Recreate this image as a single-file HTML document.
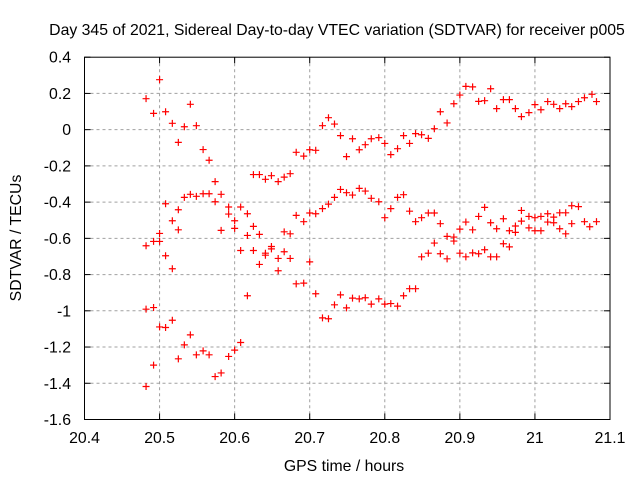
<!DOCTYPE html>
<html><head><meta charset="utf-8"><style>
html,body{margin:0;padding:0;background:#fff}
svg{display:block}
text{font-family:"Liberation Sans",sans-serif;font-size:15.8px;fill:#000}
</style></head><body>
<svg id="chart" width="640" height="480"></svg>
<script>
const xTicks=[20.4,20.5,20.6,20.7,20.8,20.9,21,21.1];
const xTickLabels=["20.4","20.5","20.6","20.7","20.8","20.9","21","21.1"];
const yTicks=[0.4,0.2,0,-0.2,-0.4,-0.6,-0.8,-1,-1.2,-1.4,-1.6];
const yTickLabels=["0.4","0.2","0","-0.2","-0.4","-0.6","-0.8","-1","-1.2","-1.4","-1.6"];
const xs=[20.500,20.482,20.541,20.492,20.508,20.517,20.533,20.549,20.525,20.558,20.566,20.682,20.625,20.633,20.641,20.649,20.658,20.666,20.674,20.574,
20.508,20.533,20.541,20.549,20.558,20.566,20.582,20.574,20.525,20.592,20.608,20.592,20.617,20.682,20.517,20.600,20.525,20.582,20.600,20.625,20.617,20.633,20.666,20.674,
20.500,20.482,20.492,20.500,20.508,20.517,20.608,20.625,20.641,20.641,20.649,20.649,20.666,20.658,20.674,20.633,20.658,20.682,20.617,
20.482,20.492,20.500,20.508,20.517,20.541,20.533,20.525,20.549,20.558,20.566,20.592,20.600,20.608,20.492,20.574,20.582,20.482,
20.692,20.700,20.708,20.717,20.725,20.733,20.741,20.749,20.757,20.766,20.774,20.782,20.792,20.800,20.808,20.817,20.825,20.833,20.841,20.849,20.858,20.866,20.874,20.883,20.892,20.900,
20.692,20.700,20.708,20.717,20.725,20.733,20.741,20.749,20.757,20.766,20.774,20.782,20.792,20.800,20.808,20.817,20.825,20.833,20.841,20.849,20.858,20.866,20.874,20.883,20.892,20.892,20.900,
20.866,20.849,20.858,20.874,20.883,20.900,20.700,
20.692,20.708,20.717,20.725,20.733,20.741,20.749,20.757,20.766,20.774,20.782,20.792,20.800,20.808,20.817,20.825,20.833,20.841,
20.908,20.917,20.925,20.933,20.941,20.949,20.958,20.966,20.974,20.982,20.992,21.000,21.008,21.017,21.025,21.033,21.041,21.049,21.058,21.066,21.076,21.082,
20.908,20.917,20.925,20.933,20.941,20.949,20.958,20.966,20.974,20.974,20.982,20.982,20.992,20.992,21.000,21.000,21.008,21.008,21.017,21.017,21.025,21.025,21.033,21.033,21.041,21.041,21.049,21.049,21.058,21.066,21.073,21.082,
20.908,20.917,20.925,20.933,20.941,20.949,20.958,20.966];
const ys=[0.276,0.171,0.140,0.090,0.099,0.035,0.016,0.022,-0.070,-0.110,-0.169,-0.125,-0.248,-0.248,-0.274,-0.254,-0.287,-0.262,-0.243,-0.287,
-0.409,-0.374,-0.357,-0.368,-0.354,-0.354,-0.357,-0.398,-0.442,-0.427,-0.427,-0.466,-0.464,-0.473,-0.503,-0.503,-0.553,-0.556,-0.545,-0.534,-0.584,-0.578,-0.564,-0.575,
-0.573,-0.641,-0.617,-0.617,-0.696,-0.768,-0.667,-0.667,-0.682,-0.693,-0.645,-0.658,-0.674,-0.711,-0.711,-0.744,-0.779,-0.851,-0.917,
-0.991,-0.982,-1.089,-1.092,-1.052,-1.133,-1.188,-1.265,-1.243,-1.221,-1.243,-1.252,-1.217,-1.175,-1.300,-1.363,-1.343,-1.418,
-0.146,-0.111,-0.114,0.022,0.066,0.031,-0.033,-0.149,-0.050,-0.111,-0.083,-0.050,-0.044,-0.076,-0.138,-0.105,-0.033,-0.076,-0.022,-0.028,-0.048,0.005,0.099,0.037,0.143,0.191,
-0.508,-0.460,-0.464,-0.436,-0.411,-0.374,-0.330,-0.348,-0.361,-0.324,-0.339,-0.379,-0.398,-0.486,-0.436,-0.374,-0.359,-0.450,-0.508,-0.486,-0.460,-0.460,-0.519,-0.589,-0.593,-0.615,-0.549,
-0.626,-0.702,-0.682,-0.685,-0.713,-0.682,-0.730,
-0.847,-0.906,-1.039,-1.044,-0.967,-0.912,-0.984,-0.930,-0.934,-0.928,-0.963,-0.934,-0.963,-0.960,-0.974,-0.917,-0.878,-0.878,
0.239,0.236,0.156,0.160,0.226,0.116,0.166,0.166,0.116,0.072,0.094,0.138,0.110,0.155,0.140,0.116,0.143,0.127,0.155,0.176,0.195,0.155,
-0.510,-0.553,-0.479,-0.429,-0.514,-0.547,-0.492,-0.558,-0.532,-0.567,-0.446,-0.505,-0.479,-0.542,-0.486,-0.558,-0.479,-0.558,-0.464,-0.510,-0.483,-0.514,-0.459,-0.547,-0.459,-0.575,-0.420,-0.519,-0.425,-0.508,-0.536,-0.508,
-0.702,-0.680,-0.685,-0.663,-0.702,-0.702,-0.630,-0.647];

const L=84.5,R=610,T=57.2,B=419.5;
const X0=20.4,X1=21.1,Y0=-1.6,Y1=0.4;
function sx(v){return L+(v-X0)/(X1-X0)*(R-L);}
function sy(v){return B-(v-Y0)/(Y1-Y0)*(B-T);}
const NS="http://www.w3.org/2000/svg";
const svg=document.getElementById('chart');
function mk(tag,attrs,parent){const e=document.createElementNS(NS,tag);for(const k in attrs)e.setAttribute(k,attrs[k]);(parent||svg).appendChild(e);return e;}

const grid=mk('g',{});


xTicks.forEach((v,i)=>{
  const x=sx(v);
  if(i>0&&i<xTicks.length-1){mk('line',{x1:x,y1:T,x2:x,y2:B,stroke:'#a0a0a0','stroke-dasharray':'3,3','stroke-width':1},grid);}
  mk('line',{x1:x,y1:B,x2:x,y2:B-6,stroke:'#000'},grid);
  mk('line',{x1:x,y1:T,x2:x,y2:T+6,stroke:'#000'},grid);
  const t=mk('text',{x:x,y:443,'text-anchor':'middle'});
  t.textContent=xTickLabels[i];
  
  
});
yTicks.forEach((v,i)=>{
  const y=sy(v);
  if(i>0&&i<yTicks.length-1){mk('line',{x1:L,y1:y,x2:R,y2:y,stroke:'#a0a0a0','stroke-dasharray':'3,3','stroke-width':1},grid);}
  mk('line',{x1:L,y1:y,x2:L+6,y2:y,stroke:'#000'},grid);
  mk('line',{x1:R,y1:y,x2:R-6,y2:y,stroke:'#000'},grid);
  const t=mk('text',{x:71,y:y+5.5,'text-anchor':'end'});
  t.textContent=yTickLabels[i];
  
  
});
const border=mk('rect',{x:L,y:T,width:R-L,height:B-T,fill:'none',stroke:'#000','stroke-width':1});



const pts=mk('g',{stroke:'#ff0000','stroke-width':1.2,fill:'none'});


for(let i=0;i<xs.length;i++){
  const x=sx(xs[i]),y=sy(ys[i]);
  const p=mk('path',{d:`M${x-3.5},${y}H${x+3.5}M${x},${y-3.5}V${y+3.5}`},pts);
  
  
}

const title=mk('text',{x:337,y:35,'text-anchor':'middle'});
title.textContent='Day 345 of 2021, Sidereal Day-to-day VTEC variation (SDTVAR) for receiver p005';


const xt=mk('text',{x:344,y:471,'text-anchor':'middle'});
xt.textContent='GPS time / hours';


const yt=mk('text',{x:0,y:0,'text-anchor':'middle',transform:'translate(21,238) rotate(-90)'});
yt.textContent='SDTVAR / TECUs';


</script>
</body></html>
